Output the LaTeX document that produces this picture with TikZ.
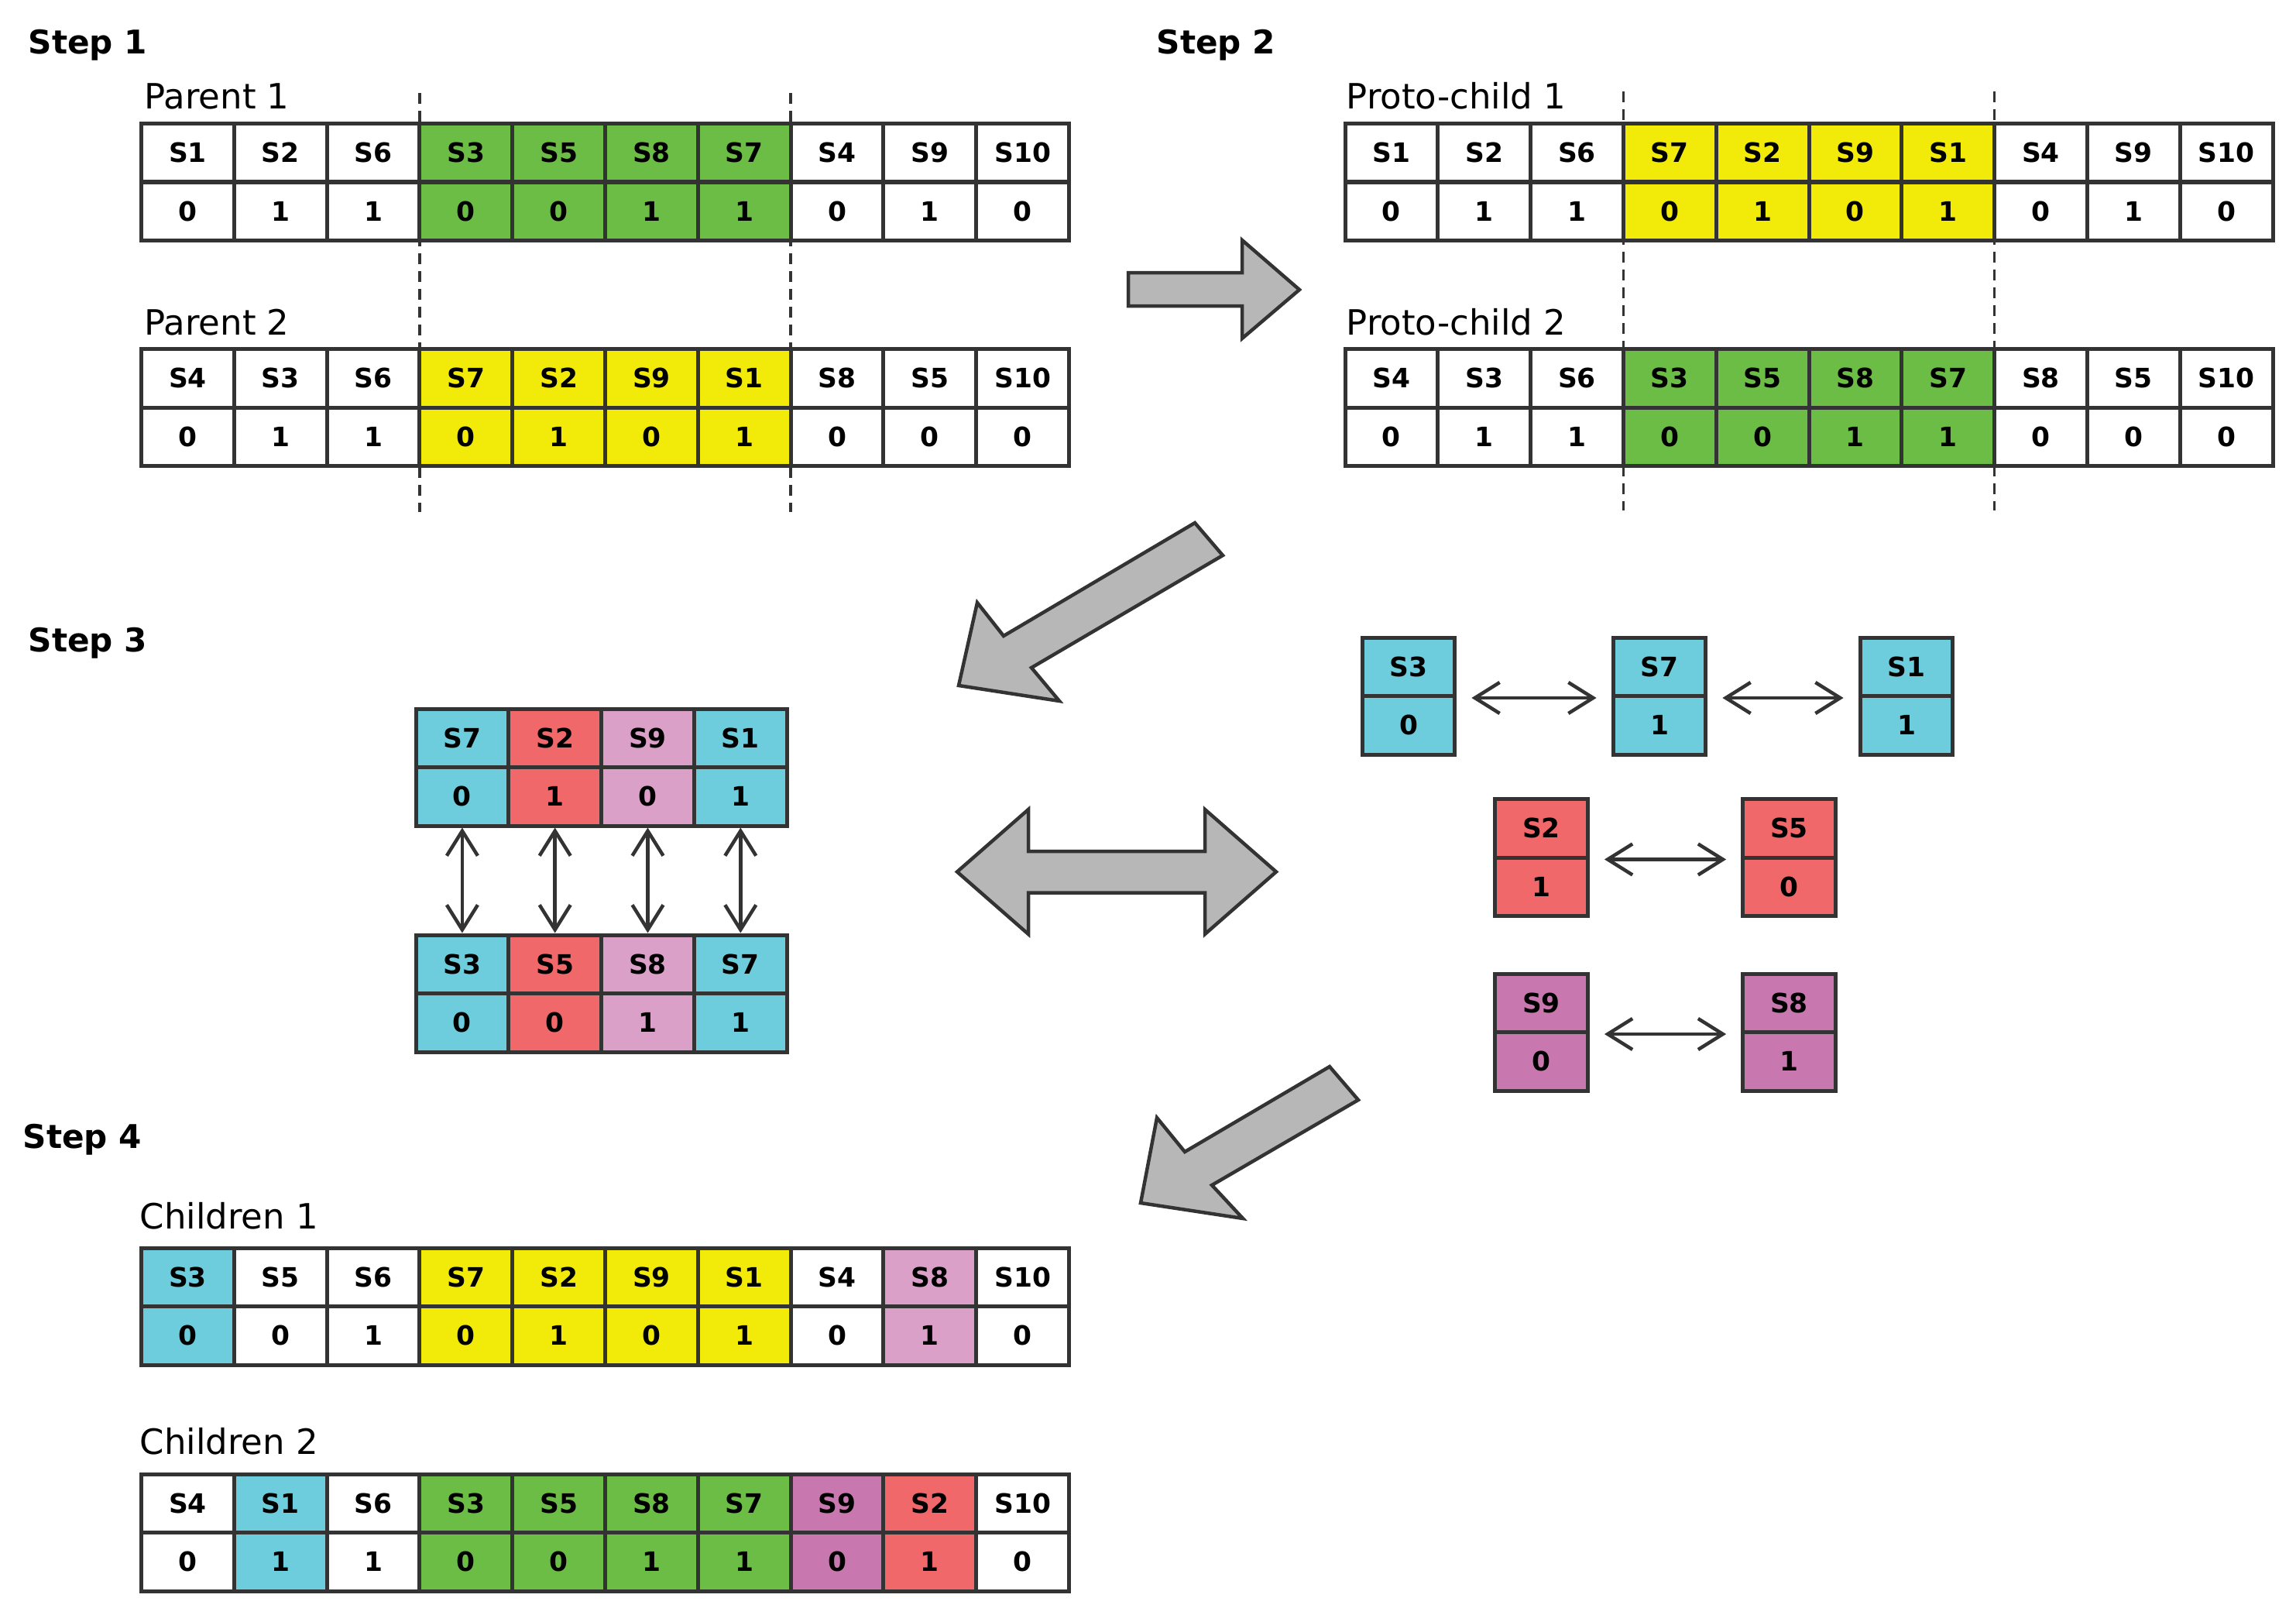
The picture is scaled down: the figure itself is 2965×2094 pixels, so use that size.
\documentclass[tikz,border=0pt]{standalone}
\usepackage{fontspec}
\setmainfont{DejaVu Sans}
\usetikzlibrary{arrows.meta}

\definecolor{linec}{HTML}{333333}
\definecolor{cgreen}{HTML}{6BBD45}
\definecolor{cyellow}{HTML}{F2EB0A}
\definecolor{ccyan}{HTML}{6ECDDC}
\definecolor{cred}{HTML}{F0686A}
\definecolor{cpink}{HTML}{DBA0C8}
\definecolor{cmag}{HTML}{C878AF}
\definecolor{cgray}{HTML}{B7B7B7}

\tikzset{
  cell/.style={draw=linec, line width=0.5mm, minimum width=11.98mm, minimum height=7.55mm,
    inner sep=0pt, font=\fontsize{9.8}{11}\selectfont\bfseries},
  steplabel/.style={anchor=base west, inner sep=0pt, font=\fontsize{12}{14}\selectfont\bfseries},
  rowlabel/.style={anchor=base west, inner sep=0pt, font=\fontsize{12.8}{15}\selectfont},
  cut/.style={draw=linec, line width=0.35mm, dash pattern=on 1.4mm off 0.9mm},
  blockarrow/.style={draw=linec, line width=0.45mm, fill=cgray},
  swap/.style={draw=linec, line width=0.45mm,
    {Straight Barb[length=3.2mm,width=4mm]}-{Straight Barb[length=3.2mm,width=4mm]}},
}

\begin{document}
\begin{tikzpicture}[x=0.1mm, y=-0.1mm]
\useasboundingbox (0,0) rectangle (2965,2094);

% step titles
\node[steplabel] (step1) at (36,70) {Step 1};
\node[steplabel] (step2) at (1493,70) {Step 2};
\node[steplabel] (step3) at (36,841) {Step 3};
\node[steplabel] (step4) at (29,1482) {Step 4};

% cut points
\draw[cut] (541.9,120) -- (541.9,661);
\draw[cut] (1021.1,120) -- (1021.1,661);
\draw[cut] (2096.4,118) -- (2096.4,659);
\draw[cut] (2575.6,118) -- (2575.6,659);

% step 1
\node[rowlabel] (lp1) at (186,141) {Parent 1};
\foreach \g/\v/\c [count=\i] in {S1/0/white,S2/1/white,S6/1/white,S3/0/cgreen,S5/0/cgreen,
  S8/1/cgreen,S7/1/cgreen,S4/0/white,S9/1/white,S10/0/white} {
  \node[cell, fill=\c] (pa\i) at ({182.5+(\i-0.5)*119.8},197.25) {\g};
  \node[cell, fill=\c] (pb\i) at ({182.5+(\i-0.5)*119.8},272.75) {\v};
}
\node[rowlabel] (lp2) at (186,432) {Parent 2};
\foreach \g/\v/\c [count=\i] in {S4/0/white,S3/1/white,S6/1/white,S7/0/cyellow,S2/1/cyellow,
  S9/0/cyellow,S1/1/cyellow,S8/0/white,S5/0/white,S10/0/white} {
  \node[cell, fill=\c] (qa\i) at ({182.5+(\i-0.5)*119.8},488.25) {\g};
  \node[cell, fill=\c] (qb\i) at ({182.5+(\i-0.5)*119.8},563.75) {\v};
}

% step 2
\node[rowlabel] (lc1) at (1738,141) {Proto-child 1};
\foreach \g/\v/\c [count=\i] in {S1/0/white,S2/1/white,S6/1/white,S7/0/cyellow,S2/1/cyellow,
  S9/0/cyellow,S1/1/cyellow,S4/0/white,S9/1/white,S10/0/white} {
  \node[cell, fill=\c] (ua\i) at ({1737+(\i-0.5)*119.8},197.25) {\g};
  \node[cell, fill=\c] (ub\i) at ({1737+(\i-0.5)*119.8},272.75) {\v};
}
\node[rowlabel] (lc2) at (1738,432) {Proto-child 2};
\foreach \g/\v/\c [count=\i] in {S4/0/white,S3/1/white,S6/1/white,S3/0/cgreen,S5/0/cgreen,
  S8/1/cgreen,S7/1/cgreen,S8/0/white,S5/0/white,S10/0/white} {
  \node[cell, fill=\c] (wa\i) at ({1737+(\i-0.5)*119.8},488.25) {\g};
  \node[cell, fill=\c] (wb\i) at ({1737+(\i-0.5)*119.8},563.75) {\v};
}

% big arrows
\draw[blockarrow] (1457,352) -- (1604,352) -- (1604,310) -- (1678,374) -- (1604,437)
  -- (1604,395) -- (1457,395) -- cycle;
\draw[blockarrow] (1543,675) -- (1579,717) -- (1332,862) -- (1368,905) -- (1238,885)
  -- (1262,778) -- (1296,821) -- cycle;
\draw[blockarrow] (1236,1125.5) -- (1328,1045) -- (1328,1099) -- (1556,1099) -- (1556,1045)
  -- (1648,1125.5) -- (1556,1206) -- (1556,1152.5) -- (1328,1152.5) -- (1328,1206) -- cycle;
\draw[blockarrow] (1717,1377) -- (1754,1420) -- (1565,1530) -- (1605,1573) -- (1473,1553)
  -- (1494,1443) -- (1530,1487) -- cycle;

% step 3, mapping
\foreach \g/\v/\c [count=\i] in {S7/0/ccyan,S2/1/cred,S9/0/cpink,S1/1/ccyan} {
  \node[cell, fill=\c] (sn\i) at ({537+(\i-0.5)*119.8},952.75) {\g};
  \node[cell, fill=\c] (sa\i) at ({537+(\i-0.5)*119.8},1028.25) {\v};
}
\foreach \g/\v/\c [count=\i] in {S3/0/ccyan,S5/0/cred,S8/1/cpink,S7/1/ccyan} {
  \node[cell, fill=\c] (sb\i) at ({537+(\i-0.5)*119.8},1244.75) {\g};
  \node[cell, fill=\c] (sv\i) at ({537+(\i-0.5)*119.8},1320.25) {\v};
}
\foreach \i in {1,...,4}
  \draw[swap] (sa\i.south) -- (sb\i.north);

\foreach \n/\g/\v/\c/\x/\y in {m3/S3/0/ccyan/1819/823, m7/S7/1/ccyan/2143/823,
  m1/S1/1/ccyan/2462/823, m2/S2/1/cred/1990.5/1031.5, m5/S5/0/cred/2310.5/1031.5,
  m9/S9/0/cmag/1990.5/1257, m8/S8/1/cmag/2310.5/1257} {
  \node[cell, fill=\c] (\n a) at (\x,\y+37.75) {\g};
  \node[cell, fill=\c] (\n b) at (\x,\y+113.25) {\v};
}
\draw[swap, shorten <=1.9mm, shorten >=1.9mm] (m3a.south east) -- (m7a.south west);
\draw[swap, shorten <=1.9mm, shorten >=1.9mm] (m7a.south east) -- (m1a.south west);
\draw[swap, shorten <=1.9mm, shorten >=1.9mm] (m2a.south east) -- (m5a.south west);
\draw[swap, shorten <=1.9mm, shorten >=1.9mm] (m9a.south east) -- (m8a.south west);

% step 4
\node[rowlabel] (lk1) at (180,1586) {Children 1};
\foreach \g/\v/\c [count=\i] in {S3/0/ccyan,S5/0/white,S6/1/white,S7/0/cyellow,S2/1/cyellow,
  S9/0/cyellow,S1/1/cyellow,S4/0/white,S8/1/cpink,S10/0/white} {
  \node[cell, fill=\c] (ka\i) at ({182.5+(\i-0.5)*119.8},1648.75) {\g};
  \node[cell, fill=\c] (kb\i) at ({182.5+(\i-0.5)*119.8},1724.25) {\v};
}
\node[rowlabel] (lk2) at (180,1877) {Children 2};
\foreach \g/\v/\c [count=\i] in {S4/0/white,S1/1/ccyan,S6/1/white,S3/0/cgreen,S5/0/cgreen,
  S8/1/cgreen,S7/1/cgreen,S9/0/cmag,S2/1/cred,S10/0/white} {
  \node[cell, fill=\c] (ha\i) at ({182.5+(\i-0.5)*119.8},1940.75) {\g};
  \node[cell, fill=\c] (hb\i) at ({182.5+(\i-0.5)*119.8},2016.25) {\v};
}
\end{tikzpicture}
\end{document}
